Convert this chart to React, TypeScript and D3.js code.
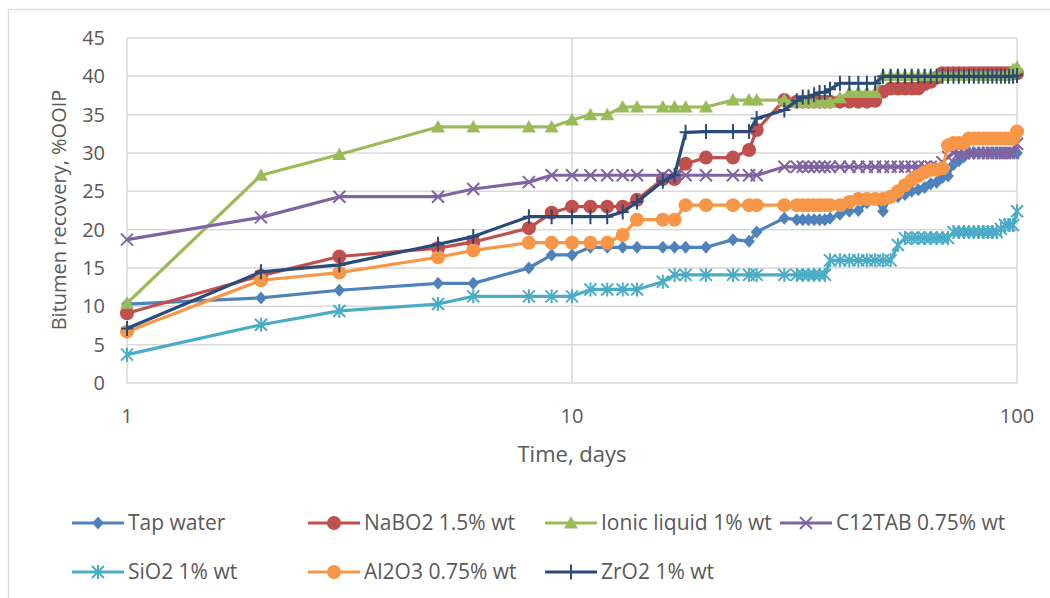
import React, { useEffect, useRef } from 'react';
import * as d3 from 'd3';

// sampling days (shared by all series)
const days = [1, 2, 3, 5, 6, 8, 9, 10, 11, 12, 13, 14, 16, 17, 18, 20, 23, 25, 26, 30,
  32, 33, 34, 35, 36, 37, 38, 40, 42, 44, 46, 48,
  50, 52, 54, 56, 58, 60, 62, 64, 66, 68, 70, 72, 74, 76, 78, 80, 82, 84, 86, 88, 90, 92, 94, 96, 98, 100];

const tapWater = [10.3, 11.1, 12.1, 13.0, 13.0, 15.0, 16.7, 16.7, 17.7, 17.7, 17.7, 17.7, 17.7, 17.7, 17.7, 17.7, 18.7, 18.5, 19.7, 21.5,
  21.3, 21.3, 21.3, 21.3, 21.3, 21.3, 21.5, 22.0, 22.4, 22.5, 23.5, 24.0,
  22.4, 24.2, 24.3, 24.6, 25.0, 25.2, 25.5, 26.0, 26.2, 26.8, 27.0, 28.5, 29.0, 29.5, 30.0, 30.0, 30.0, 30.0, 30.0, 30.0, 30.0, 30.0, 30.0, 30.0, 30.0, 30.0];

const nabo2 = [9.1, 14.0, 16.5, 17.6, 18.4, 20.2, 22.2, 23.0, 23.0, 23.0, 23.0, 23.9, 26.6, 26.6, 28.6, 29.4, 29.4, 30.4, 33.0, 36.9,
  36.7, 36.7, 36.7, 36.7, 36.7, 36.7, 36.7, 36.7, 36.7, 36.7, 36.7, 36.8,
  38.0, 38.4, 38.4, 38.4, 38.4, 38.4, 39.0, 39.3, 39.8, 40.4, 40.4, 40.4, 40.4, 40.4, 40.4, 40.4, 40.4, 40.4, 40.4, 40.4, 40.4, 40.4, 40.4, 40.4, 40.4, 40.4];

const ionicLiquid = [10.4, 27.1, 29.8, 33.4, 33.4, 33.4, 33.4, 34.3, 35.0, 35.0, 36.0, 36.0, 36.0, 36.0, 36.0, 36.0, 36.9, 36.9, 36.9, 36.9,
  36.6, 36.6, 36.6, 36.6, 36.6, 36.6, 36.6, 37.2, 37.9, 37.9, 37.9, 37.9,
  40.1, 40.1, 40.1, 40.1, 40.1, 40.1, 40.1, 40.1, 40.1, 40.1, 40.1, 40.1, 40.1, 40.1, 40.1, 40.1, 40.1, 40.1, 40.1, 40.1, 40.1, 40.1, 40.1, 40.3, 40.9, 41.2];

const c12tab = [18.7, 21.6, 24.3, 24.3, 25.3, 26.2, 27.1, 27.1, 27.1, 27.1, 27.1, 27.1, 27.1, 27.1, 27.1, 27.1, 27.1, 27.1, 27.1, 28.2,
  28.2, 28.2, 28.2, 28.2, 28.2, 28.2, 28.2, 28.2, 28.2, 28.2, 28.2, 28.2,
  28.2, 28.2, 28.2, 28.2, 28.2, 28.2, 28.2, 28.2, 28.2, 28.8, 29.5, 30.0, 30.0, 30.0, 30.0, 30.0, 30.0, 30.0, 30.0, 30.0, 30.0, 30.0, 30.0, 30.0, 30.0, 31.2];

const sio2 = [3.7, 7.6, 9.4, 10.3, 11.3, 11.3, 11.3, 11.3, 12.2, 12.2, 12.2, 12.2, 13.2, 14.1, 14.1, 14.1, 14.1, 14.1, 14.1, 14.1,
  14.1, 14.1, 14.1, 14.1, 14.1, 14.1, 16.0, 16.0, 16.0, 16.0, 16.0, 16.0,
  16.0, 16.0, 18.0, 18.9, 18.9, 18.9, 18.9, 18.9, 18.9, 18.9, 18.9, 19.7, 19.7, 19.7, 19.7, 19.7, 19.7, 19.7, 19.7, 19.7, 19.7, 20.1, 20.6, 20.6, 20.6, 22.4];

const al2o3 = [6.7, 13.4, 14.4, 16.4, 17.3, 18.3, 18.3, 18.3, 18.3, 18.3, 19.3, 21.3, 21.3, 21.3, 23.2, 23.2, 23.2, 23.2, 23.2, 23.2,
  23.2, 23.2, 23.2, 23.2, 23.2, 23.2, 23.2, 23.2, 23.6, 24.0, 24.0, 24.0,
  24.0, 24.3, 25.0, 25.8, 26.5, 27.0, 27.5, 27.8, 27.8, 28.0, 31.0, 31.3, 31.3, 31.3, 31.9, 31.9, 31.9, 31.9, 31.9, 31.9, 31.9, 31.9, 31.9, 31.9, 31.9, 32.8];

const zro2 = [7.1, 14.5, 15.4, 18.1, 19.1, 21.7, 21.7, 21.7, 21.7, 21.7, 22.3, 23.6, 26.3, 27.1, 32.7, 32.8, 32.8, 32.8, 34.5, 35.6,
  36.8, 37.3, 37.3, 37.6, 37.9, 37.9, 38.3, 39.1, 39.1, 39.1, 39.1, 39.1,
  40.0, 40.0, 40.0, 40.0, 40.0, 40.0, 40.0, 40.0, 40.0, 40.0, 40.0, 40.0, 40.0, 40.0, 40.0, 40.0, 40.0, 40.0, 40.0, 40.0, 40.0, 40.0, 40.0, 40.0, 40.0, 40.1];

const yTicks = [0, 5, 10, 15, 20, 25, 30, 35, 40, 45];
const xTicks = [1, 10, 100];

const series = [
  { name: 'Tap water', values: tapWater, color: '#4F81BD', marker: 'diamond' },
  { name: 'NaBO2 1.5% wt', values: nabo2, color: '#C0504D', marker: 'circle' },
  { name: 'Ionic liquid 1% wt', values: ionicLiquid, color: '#9BBB59', marker: 'triangle' },
  { name: 'C12TAB 0.75% wt', values: c12tab, color: '#8064A2', marker: 'x' },
  { name: 'SiO2 1% wt', values: sio2, color: '#4BACC6', marker: 'star' },
  { name: 'Al2O3 0.75% wt', values: al2o3, color: '#F79646', marker: 'circle' },
  { name: 'ZrO2 1% wt', values: zro2, color: '#2A4A78', marker: 'plus' },
];

const FONT = '"Open Sans", sans-serif';

function drawMarker(g, type, color) {
  if (type === 'circle') {
    g.append('circle').attr('r', 7).attr('fill', color);
  } else if (type === 'diamond') {
    g.append('path').attr('d', 'M0,-6.5L5.8,0L0,6.5L-5.8,0Z').attr('fill', color);
  } else if (type === 'triangle') {
    g.append('path').attr('d', 'M0,-7L7,5.5L-7,5.5Z').attr('fill', color);
  } else if (type === 'x') {
    g.append('path').attr('d', 'M-6,-6L6,6M-6,6L6,-6').attr('stroke', color).attr('stroke-width', 2).attr('fill', 'none');
  } else if (type === 'star') {
    g.append('path').attr('d', 'M-6,-6L6,6M-6,6L6,-6M0,-7L0,7').attr('stroke', color).attr('stroke-width', 2).attr('fill', 'none');
  } else if (type === 'plus') {
    g.append('path').attr('d', 'M-6,0L6,0M0,-7.5L0,7.5').attr('stroke', color).attr('stroke-width', 2).attr('fill', 'none');
  }
}

export default function App() {
  const ref = useRef(null);

  useEffect(() => {
    const svg = d3.select(ref.current);
    svg.selectAll('*').remove();

    const x = d3.scaleLog().domain([1, 100]).range([127, 1017]);
    const y = d3.scaleLinear().domain([0, 45]).range([383, 38]);

    // chart frame
    svg.append('rect').attr('x', 8.5).attr('y', 9.5).attr('width', 1100).attr('height', 700)
      .attr('fill', 'white').attr('stroke', '#d9d9d9').attr('stroke-width', 1.3);

    // gridlines
    svg.append('g').selectAll('line').data(yTicks).join('line')
      .attr('x1', x(1)).attr('x2', x(100))
      .attr('y1', d => y(d)).attr('y2', d => y(d))
      .attr('stroke', '#d9d9d9').attr('stroke-width', 1.5);
    svg.append('g').selectAll('line').data(xTicks).join('line')
      .attr('x1', d => x(d)).attr('x2', d => x(d))
      .attr('y1', y(0)).attr('y2', y(45))
      .attr('stroke', '#d9d9d9').attr('stroke-width', 1.5);

    // tick labels
    svg.append('g').selectAll('text').data(yTicks).join('text')
      .attr('x', 105).attr('y', d => y(d)).attr('dy', '0.35em')
      .attr('text-anchor', 'end').attr('font-family', FONT).attr('font-size', 20).attr('fill', '#595959')
      .text(d => d);
    svg.append('g').selectAll('text').data(xTicks).join('text')
      .attr('x', d => x(d)).attr('y', 423)
      .attr('text-anchor', 'middle').attr('font-family', FONT).attr('font-size', 20).attr('fill', '#595959')
      .text(d => d);

    // axis titles
    svg.append('text').attr('transform', 'translate(66,210) rotate(-90)')
      .attr('text-anchor', 'middle').attr('font-family', FONT).attr('font-size', 20).attr('fill', '#595959')
      .text('Bitumen recovery, %OOIP');
    svg.append('text').attr('x', 572).attr('y', 462)
      .attr('text-anchor', 'middle').attr('font-family', FONT).attr('font-size', 22).attr('fill', '#595959')
      .text('Time, days');

    // series
    const line = d3.line().x(d => x(d[0])).y(d => y(d[1]));
    series.forEach(s => {
      const pts = days.map((d, i) => [d, s.values[i]]);
      const g = svg.append('g');
      g.append('path').attr('d', line(pts)).attr('fill', 'none')
        .attr('stroke', s.color).attr('stroke-width', 3.2).attr('stroke-linejoin', 'round');
      pts.forEach(p => {
        const m = g.append('g').attr('transform', `translate(${x(p[0])},${y(p[1])})`);
        drawMarker(m, s.marker, s.color);
      });
    });

    // legend
    const colX = [72, 308, 545, 780];
    const rowY = [523, 572];
    series.forEach((s, i) => {
      const lx = colX[i % 4];
      const ly = rowY[Math.floor(i / 4)];
      const g = svg.append('g').attr('transform', `translate(${lx},${ly})`);
      g.append('line').attr('x1', 0).attr('x2', 52).attr('y1', 0).attr('y2', 0)
        .attr('stroke', s.color).attr('stroke-width', 3.2);
      const m = g.append('g').attr('transform', 'translate(26,0)');
      drawMarker(m, s.marker, s.color);
      g.append('text').attr('x', 56).attr('y', 0).attr('dy', '0.35em')
        .attr('font-family', FONT).attr('font-size', 21).attr('fill', '#595959')
        .text(s.name);
    });
  }, []);

  return (
    <svg ref={ref} width={1050} height={598}
      style={{ position: 'absolute', left: 0, top: 0, background: 'white' }} />
  );
}
